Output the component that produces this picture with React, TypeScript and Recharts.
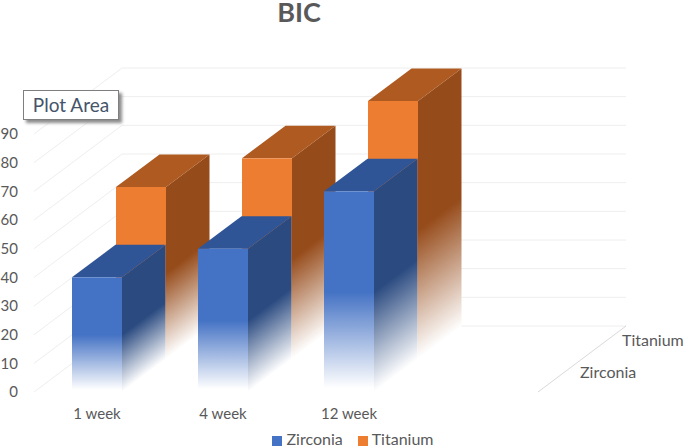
import { Bar, BarChart, CartesianGrid, Legend, XAxis, YAxis } from 'recharts'

const categories = ['1 week', '4 week', '12 week', '']
const zirconia = [40, 50, 70, null]
const titanium = [60, 70, 90, null]
const yTicks = [0, 10, 20, 30, 40, 50, 60, 70, 80, 90]

const rows = categories.map((name, i) => ({
  name,
  Zirconia: zirconia[i],
  Titanium: titanium[i],
}))

const FONT = 'Lato, sans-serif'
const GREY = '#595959'
// full floor depth, two series slots
const DEPTH_X = 88
const DEPTH_Y = 66

const faces: Record<string, { front: string; top: string; side: string }> = {
  Zirconia: { front: '#4472C4', top: '#2F5597', side: '#2A4A80' },
  Titanium: { front: '#ED7D31', top: '#AE5A21', side: '#964B1A' },
}

const Box3D = (props: any) => {
  const { x, y, width, height, index, name, slot } = props
  if (!height || height <= 0) return null
  const c = faces[name]
  const ox = x + slot * 44
  const oy = y - slot * 33
  const w = width
  const h = height
  const dx = 43.5
  const dy = 32.5
  const id = `${name}-${index}`
  const bx = ox + w
  const by = oy + h
  // side fade runs across the skewed floor edge
  const nx = -0.6 * h * 0.4
  const ny = -0.8 * h * 0.4
  return (
    <g>
      <defs>
        <linearGradient id={`front-${id}`} x1="0" y1="0" x2="0" y2="1">
          <stop offset="0.5" stopColor={c.front} />
          <stop offset="0.98" stopColor="#fff" />
        </linearGradient>
        <linearGradient id={`side-${id}`} gradientUnits="userSpaceOnUse" x1={bx} y1={by} x2={bx + nx} y2={by + ny}>
          <stop offset="0" stopColor="#fff" />
          <stop offset="1" stopColor={c.side} />
        </linearGradient>
      </defs>
      <polygon
        points={`${bx},${oy} ${bx + dx},${oy - dy} ${bx + dx},${by - dy} ${bx},${by}`}
        fill={`url(#side-${id})`}
      />
      <polygon
        points={`${ox},${oy} ${ox + dx},${oy - dy} ${bx + dx},${oy - dy} ${bx},${oy}`}
        fill={c.top}
      />
      <rect x={ox} y={oy} width={w} height={h} fill={`url(#front-${id})`} />
    </g>
  )
}

const wallLine = (p: any) => {
  return (
    <g key={p.key ?? p.y1}>
      <line x1={p.x1} y1={p.y1} x2={p.x1 + DEPTH_X} y2={p.y1 - DEPTH_Y} stroke="#EEEEEE" />
      <line x1={p.x1 + DEPTH_X} y1={p.y1 - DEPTH_Y} x2={p.x2 + DEPTH_X} y2={p.y1 - DEPTH_Y} stroke="#EEEEEE" />
      {p.y1 > 380 ? (
        <line x1={p.x2} y1={p.y1} x2={p.x2 + DEPTH_X} y2={p.y1 - DEPTH_Y} stroke="#D9D9D9" />
      ) : null}
    </g>
  )
}

const App = () => {
  return (
    <div style={{ position: 'absolute', left: 0, top: 0, width: 685, height: 448, overflow: 'hidden', fontFamily: FONT }}>
      <BarChart
        width={685}
        height={448}
        data={rows}
        margin={{ top: 134, right: 147, bottom: 26, left: 0 }}
        barSize={50}
        barGap={-50}
        barCategoryGap="60%"
      >
        <CartesianGrid vertical={false} horizontal={wallLine} />
        <XAxis
          dataKey="name"
          interval={0}
          axisLine={false}
          tickLine={false}
          tickSize={0}
          tickMargin={16}
          tick={{ fill: GREY, fontSize: 15, fontFamily: FONT }}
        />
        <YAxis
          width={34}
          domain={[0, 90]}
          ticks={yTicks}
          interval={0}
          axisLine={false}
          tickLine={false}
          tickSize={0}
          tickMargin={16}
          tick={{ fill: GREY, fontSize: 15, fontFamily: FONT }}
        />
        <Bar dataKey="Titanium" fill={faces.Titanium.front} isAnimationActive={false} shape={(p: any) => <Box3D {...p} name="Titanium" slot={1} />} />
        <Bar dataKey="Zirconia" fill={faces.Zirconia.front} isAnimationActive={false} shape={(p: any) => <Box3D {...p} name="Zirconia" slot={0} />} />
        <Legend
          layout="horizontal"
          verticalAlign="middle"
          align="center"
          iconType="square"
          iconSize={10}
          itemSorter={(item: any) => (item.value === 'Zirconia' ? 0 : 1)}
          wrapperStyle={{ left: 263, top: 429, width: 190, bottom: 'auto', fontSize: 16, fontFamily: FONT }}
          formatter={(value: string) => <span style={{ color: GREY, marginRight: value === 'Zirconia' ? 5 : 0 }}>{value}</span>}
        />
        <text x={299} y={22} textAnchor="middle" fontSize={27} fontWeight={700} fontFamily={FONT} fill={GREY}>
          BIC
        </text>
        <text x={622} y={346} fontSize={16} fontFamily={FONT} fill={GREY}>
          Titanium
        </text>
        <text x={580} y={378} fontSize={16} fontFamily={FONT} fill={GREY}>
          Zirconia
        </text>
      </BarChart>
      <div
        style={{
          position: 'absolute',
          left: 23,
          top: 90,
          width: 96,
          height: 30,
          boxSizing: 'border-box',
          border: '1px solid #7F7F7F',
          background: '#fff',
          boxShadow: '3px 3px 3px #8c8c8c',
          color: '#44546A',
          fontSize: 19,
          lineHeight: '28px',
          textAlign: 'center',
        }}
      >
        Plot Area
      </div>
    </div>
  )
}

export default App
